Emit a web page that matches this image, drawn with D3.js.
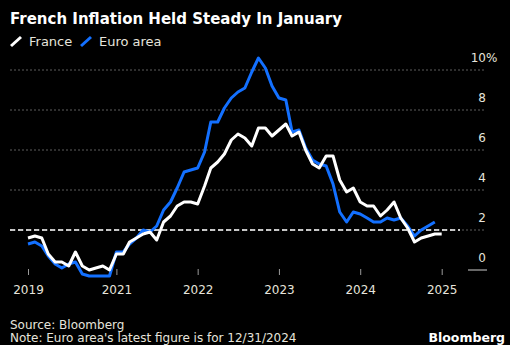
<!DOCTYPE html>
<html>
<head>
<meta charset="utf-8">
<script src="https://cdn.jsdelivr.net/npm/d3@7"></script>
<style>
  html, body { margin: 0; padding: 0; background: #000; }
  svg { display: block; font-family: "DejaVu Sans", Verdana, sans-serif; }
</style>
</head>
<body>
<svg id="chart" width="510" height="345"></svg>
<script>
// Monthly year-over-year inflation, %, first observation December 2019
const firstMonth = "2019-12";
const seriesNames = ["France", "Euro area"];
const franceValues = [
  1.6,
  1.7, 1.6, 0.8, 0.4, 0.4, 0.2, 0.9, 0.2, 0.0, 0.1, 0.2, 0.0,
  0.8, 0.8, 1.4, 1.6, 1.8, 1.9, 1.5, 2.4, 2.7, 3.2, 3.4, 3.4,
  3.3, 4.2, 5.1, 5.4, 5.8, 6.5, 6.8, 6.6, 6.2, 7.1, 7.1, 6.7,
  7.0, 7.3, 6.7, 6.9, 6.0, 5.3, 5.1, 5.7, 5.7, 4.5, 3.9, 4.1,
  3.4, 3.2, 3.2, 2.7, 3.0, 3.4, 2.6, 2.1, 1.4, 1.6, 1.7, 1.8,
  1.8
];
const euroValues = [
  1.3,
  1.4, 1.2, 0.7, 0.3, 0.1, 0.3, 0.4, -0.2, -0.3, -0.3, -0.3, -0.3,
  0.9, 0.9, 1.3, 1.6, 2.0, 1.9, 2.2, 3.0, 3.4, 4.1, 4.9, 5.0,
  5.1, 5.9, 7.4, 7.4, 8.1, 8.6, 8.9, 9.1, 9.9, 10.6, 10.1, 9.2,
  8.6, 8.5, 6.9, 7.0, 6.1, 5.5, 5.3, 5.2, 4.3, 2.9, 2.4, 2.9,
  2.8, 2.6, 2.4, 2.4, 2.6, 2.5, 2.6, 2.2, 1.7, 2.0, 2.2, 2.4
];
const yTicks = [0, 2, 4, 6, 8, 10];
const xTickMonths = ["2019-12", "2021-01", "2022-01", "2023-01", "2024-01", "2025-01"];
const targetRate = 2;
const sourceText = "Source: Bloomberg";
const noteText = "Note: Euro area's latest figure is for 12/31/2024";

const parseMonth = d3.timeParse("%Y-%m");
const start = parseMonth(firstMonth);
const toPoints = vals => vals.map((v, i) => ({ date: d3.timeMonth.offset(start, i), value: v }));
const france = toPoints(franceValues);
const euro = toPoints(euroValues);

const svg = d3.select("#chart");
const W = 510, H = 345;
svg.append("rect").attr("width", W).attr("height", H).attr("fill", "#000");

const x = d3.scaleTime()
  .domain([start, parseMonth("2025-01")])
  .range([28, 441.7]);
const y = d3.scaleLinear().domain([0, 10]).range([270, 70]);

const gridLeft = 10, gridRight = 485;
const labelColor = "#e6e4dc";
const blue = "#1370ff";

// Title
svg.append("text")
  .attr("x", 10).attr("y", 23.5)
  .attr("fill", "#fff")
  .attr("font-size", 15)
  .attr("font-weight", "bold")
  .text("French Inflation Held Steady In January");

// Legend
const legend = [
  { name: seriesNames[0], color: "#ffffff", x: 11 },
  { name: seriesNames[1], color: blue, x: 81 }
];
legend.forEach(l => {
  svg.append("line")
    .attr("x1", l.x).attr("y1", 46)
    .attr("x2", l.x + 10).attr("y2", 37)
    .attr("stroke", l.color).attr("stroke-width", 3);
  svg.append("text")
    .attr("x", l.x + 18).attr("y", 46)
    .attr("fill", labelColor)
    .attr("font-size", 13)
    .text(l.name);
});

// Horizontal dotted gridlines
svg.append("g")
  .selectAll("line")
  .data(yTicks.filter(t => t !== 0))
  .join("line")
  .attr("x1", gridLeft).attr("x2", gridRight)
  .attr("y1", d => y(d)).attr("y2", d => y(d))
  .attr("stroke", "#5c5c5c")
  .attr("stroke-width", 1)
  .attr("stroke-dasharray", "2,2");

// Short zero marker beside the axis labels
svg.append("line")
  .attr("x1", 468).attr("x2", 487)
  .attr("y1", y(0)).attr("y2", y(0))
  .attr("stroke", "#8a8a8a").attr("stroke-width", 1.5);

// Y axis labels (right side, above gridlines)
const yLab = svg.append("g");
yTicks.forEach(t => {
  yLab.append("text")
    .attr("x", 486).attr("y", y(t) - 8)
    .attr("fill", labelColor)
    .attr("font-size", 12)
    .attr("text-anchor", "end")
    .text(t);
  if (t === 10) {
    yLab.append("text")
      .attr("x", 486).attr("y", y(t) - 8)
      .attr("fill", labelColor)
      .attr("font-size", 12)
      .text("%");
  }
});

// X axis
const xAxis = d3.axisBottom(x)
  .tickValues(xTickMonths.map(parseMonth))
  .tickFormat(d3.timeFormat("%Y"))
  .tickSize(6)
  .tickPadding(10);
const gx = svg.append("g")
  .attr("transform", `translate(0,${269})`)
  .call(xAxis);
gx.select(".domain").remove();
gx.selectAll(".tick line").attr("stroke", "#9a9a9a").attr("stroke-width", 1);
gx.selectAll(".tick text")
  .attr("fill", labelColor)
  .attr("font-size", 12)
  .attr("font-family", "DejaVu Sans, Verdana, sans-serif");

// 2% target line
svg.append("line")
  .attr("x1", gridLeft).attr("x2", 460)
  .attr("y1", y(targetRate)).attr("y2", y(targetRate))
  .attr("stroke", "#fff")
  .attr("stroke-width", 1.5)
  .attr("stroke-dasharray", "5,3");

// Series lines
const line = d3.line().x(d => x(d.date)).y(d => y(d.value));
svg.append("path")
  .datum(euro)
  .attr("d", line)
  .attr("fill", "none")
  .attr("stroke", blue)
  .attr("stroke-width", 3)
  .attr("stroke-linejoin", "round");
svg.append("path")
  .datum(france)
  .attr("d", line)
  .attr("fill", "none")
  .attr("stroke", "#ffffff")
  .attr("stroke-width", 3)
  .attr("stroke-linejoin", "round");

// Footer
svg.append("text")
  .attr("x", 10).attr("y", 329)
  .attr("fill", labelColor)
  .attr("font-size", 12)
  .text(sourceText);
svg.append("text")
  .attr("x", 10).attr("y", 342)
  .attr("fill", labelColor)
  .attr("font-size", 12)
  .text(noteText);
svg.append("text")
  .attr("x", 505).attr("y", 342)
  .attr("fill", "#fff")
  .attr("font-size", 12.5)
  .attr("font-weight", "bold")
  .attr("text-anchor", "end")
  .text("Bloomberg");
</script>
</body>
</html>
